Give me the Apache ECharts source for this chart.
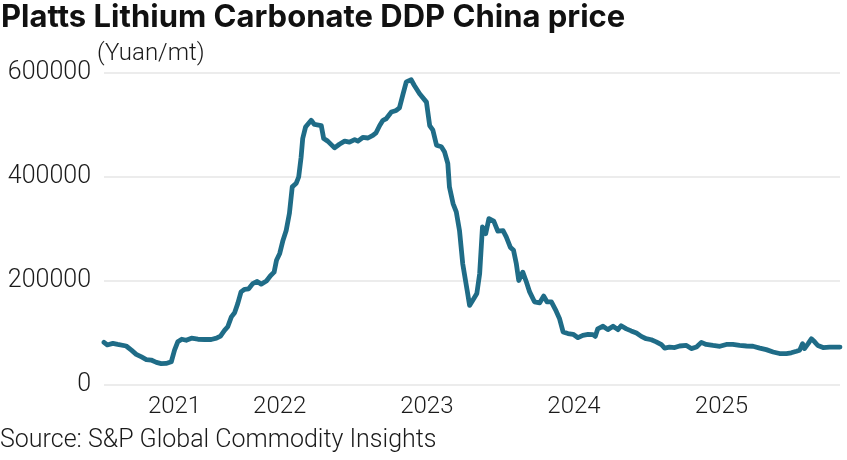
<!DOCTYPE html>
<html>
<head>
<meta charset="utf-8">
<script src="https://cdn.jsdelivr.net/npm/echarts@6.0.0/dist/echarts.min.js"></script>
<style>
  html, body { margin: 0; padding: 0; background: #ffffff; }
  #chart { width: 847px; height: 460px; }
</style>
</head>
<body>
<div id="chart"></div>
<script>
// ---- Data ----
const dates = [
  '2020-10-22','2020-10-30','2020-11-13','2020-11-25','2020-12-16','2020-12-29',
  '2021-01-10','2021-01-23','2021-02-04','2021-02-16','2021-03-01','2021-03-13',
  '2021-03-25','2021-04-07','2021-04-15','2021-04-23','2021-05-03','2021-05-14',
  '2021-05-27','2021-06-12','2021-06-29','2021-07-15','2021-07-28','2021-08-07',
  '2021-08-17','2021-08-25','2021-09-03','2021-09-11','2021-09-19','2021-09-27',
  '2021-10-06','2021-10-16','2021-10-26','2021-11-06','2021-11-16','2021-11-29',
  '2021-12-09','2021-12-18','2021-12-24','2022-01-01','2022-01-09','2022-01-17',
  '2022-01-25','2022-02-01','2022-02-11','2022-02-17','2022-02-23','2022-02-27',
  '2022-03-06','2022-03-20','2022-03-28','2022-04-14','2022-04-20','2022-04-30',
  '2022-05-17','2022-05-29','2022-06-11','2022-06-23','2022-07-06','2022-07-14',
  '2022-07-26','2022-08-08','2022-08-20','2022-08-28','2022-09-06','2022-09-14',
  '2022-09-22','2022-10-05','2022-10-17','2022-10-25','2022-11-03','2022-11-11',
  '2022-11-15','2022-11-23','2022-12-01','2022-12-14','2022-12-31','2023-01-08',
  '2023-01-16','2023-01-25','2023-02-06','2023-02-14','2023-02-22','2023-02-26',
  '2023-03-07','2023-03-15','2023-03-23','2023-03-31','2023-04-11','2023-04-17',
  '2023-04-25','2023-05-05','2023-05-12','2023-05-19','2023-05-27','2023-06-04',
  '2023-06-16','2023-06-26','2023-07-09','2023-07-17','2023-07-27','2023-08-04',
  '2023-08-11','2023-08-17','2023-08-27','2023-09-05','2023-09-13','2023-09-25',
  '2023-10-08','2023-10-18','2023-10-26','2023-11-06','2023-11-16','2023-11-26',
  '2023-12-05','2023-12-17','2023-12-30','2024-01-11','2024-01-23','2024-02-05',
  '2024-02-17','2024-02-23','2024-02-29','2024-03-13','2024-03-25','2024-04-07',
  '2024-04-19','2024-04-27','2024-05-10','2024-05-22','2024-06-04','2024-06-16',
  '2024-06-28','2024-07-11','2024-07-23','2024-08-05','2024-08-13','2024-08-25',
  '2024-09-07','2024-09-19','2024-10-06','2024-10-18','2024-10-31','2024-11-12',
  '2024-11-24','2024-12-11','2024-12-28','2025-01-13','2025-01-29','2025-02-15',
  '2025-03-04','2025-03-20','2025-04-06','2025-04-22','2025-05-09','2025-05-25',
  '2025-06-11','2025-06-23','2025-07-06','2025-07-14','2025-07-21','2025-07-26',
  '2025-08-04','2025-08-12','2025-08-20','2025-08-28','2025-09-10','2025-09-26',
  '2025-10-13','2025-10-22'
];
const prices = [
  82000, 77000, 80000, 78000, 75000, 67000,
  59000, 54000, 49000, 48000, 43500, 41000,
  41500, 44700, 67000, 83000, 88000, 86000,
  90000, 88000, 87500, 87500, 90000, 94000,
  105000, 112000, 131000, 139000, 157000, 179000,
  184000, 185000, 195000, 199000, 194000, 200000,
  210000, 217000, 240000, 253000, 278000, 297000,
  330000, 381000, 388000, 400000, 438000, 474000,
  496000, 509000, 501000, 499000, 474000, 469000,
  456000, 463000, 469000, 467000, 472000, 469000,
  476000, 475000, 480000, 485000, 499000, 509000,
  512000, 525000, 528000, 533000, 560000, 583000,
  586000, 587000, 576000, 560000, 544000, 499000,
  490000, 461000, 458000, 448000, 426000, 381000,
  349000, 333000, 297000, 233000, 182000, 153000,
  163000, 176000, 214000, 304000, 291000, 320000,
  315000, 296000, 297000, 285000, 265000, 259000,
  233000, 201000, 217000, 198000, 179000, 160000,
  158000, 171000, 160000, 160000, 145000, 128000,
  102000, 99000, 97500, 91000, 95500, 97500,
  97000, 93500, 108000, 113000, 106500, 113000,
  106500, 114000, 108000, 104000, 100000, 93500,
  89000, 87000, 83000, 77500, 71000, 73000,
  72000, 75000, 76000, 70000, 73000, 82000,
  78000, 76000, 74500, 78000, 78000, 76000,
  75000, 74500, 71000, 68000, 63500, 60500,
  60500, 62000, 65000, 67000, 79500, 70000,
  79500, 89000, 83000, 76000, 72000, 73000,
  73000, 73000
];
const xTickDates = ['2021-04-15', '2022-01-01', '2023-01-01', '2024-01-01', '2025-01-01'];
const xTickLabels = ['2021', '2022', '2023', '2024', '2025'];
const yTicks = [0, 200000, 400000, 600000];

const titleText = 'Platts Lithium Carbonate DDP China price';
const unitText = '(Yuan/mt)';
const sourceText = 'Source: S&P Global Commodity Insights';

// ---- Chart ----
const toTs = s => Date.UTC(+s.slice(0, 4), +s.slice(5, 7) - 1, +s.slice(8, 10));
const xTickTs = xTickDates.map(toTs);
const seriesData = dates.map((d, i) => [toTs(d), prices[i]]);

const chart = echarts.init(document.getElementById('chart'), null, { renderer: 'canvas' });
const FONT = 'Roboto, "Noto Sans", sans-serif';
const TITLE_FONT = 'Inter, Roboto, sans-serif';
const LIGHT = 300;

chart.setOption({
  animation: false,
  backgroundColor: '#ffffff',
  grid: { left: 104, right: 7, top: 73, bottom: 75, containLabel: false },
  xAxis: {
    type: 'value',
    min: toTs(dates[0]),
    max: toTs(dates[dates.length - 1]),
    axisLine: { show: false },
    axisTick: { show: false },
    splitLine: { show: false },
    axisLabel: {
      customValues: xTickTs,
      formatter: function (v) {
        let best = 0;
        for (let i = 1; i < xTickTs.length; i++) {
          if (Math.abs(xTickTs[i] - v) < Math.abs(xTickTs[best] - v)) best = i;
        }
        return xTickLabels[best];
      },
      fontFamily: FONT,
      fontWeight: LIGHT,
      fontSize: 24,
      color: '#1a1a1a',
      margin: 10
    }
  },
  yAxis: {
    type: 'value',
    min: yTicks[0],
    max: yTicks[yTicks.length - 1],
    interval: 200000,
    axisLine: { show: false },
    axisTick: { show: false },
    splitLine: { show: true, lineStyle: { color: '#e6e6e6', width: 1.5 } },
    axisLabel: {
      fontFamily: FONT,
      fontWeight: LIGHT,
      fontSize: 25,
      color: '#1a1a1a',
      margin: 13,
      formatter: v => String(v)
    }
  },
  series: [{
    type: 'line',
    data: seriesData,
    showSymbol: false,
    smooth: false,
    lineStyle: { color: '#1f6c87', width: 4.8, cap: 'round', join: 'round' },
    itemStyle: { color: '#1f6c87' }
  }],
  graphic: [
    {
      type: 'text', left: 1, top: 2,
      style: { text: titleText, fontFamily: TITLE_FONT, fontWeight: 700, fontSize: 31, fill: '#111111' }
    },
    {
      type: 'text', left: 97, top: 42,
      style: { text: unitText, fontFamily: FONT, fontWeight: LIGHT, fontSize: 24, fill: '#1a1a1a' }
    },
    {
      type: 'text', left: 0, top: 428,
      style: { text: sourceText, fontFamily: FONT, fontWeight: LIGHT, fontSize: 25, fill: '#1a1a1a' }
    }
  ]
});
</script>
</body>
</html>
